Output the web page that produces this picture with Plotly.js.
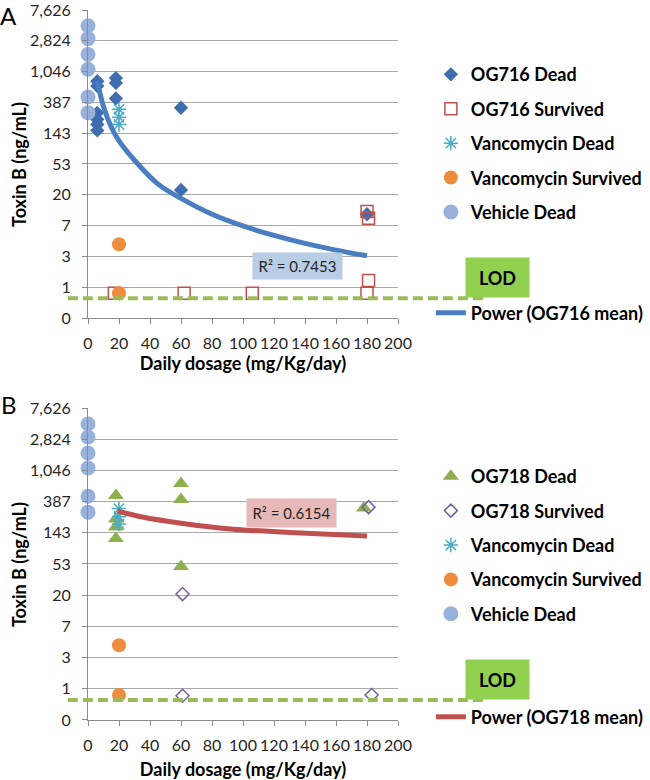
<!DOCTYPE html>
<html>
<head>
<meta charset="utf-8">
<script src="https://cdn.plot.ly/plotly-3.0.1.min.js"></script>
<style>
  html, body { margin: 0; padding: 0; background: #fff; }
  #chart { width: 650px; height: 780px; }
</style>
</head>
<body>
<div id="chart"></div>
<script>
// y axis: log scale, ticks step by x2.7 from 0.37 (shown as "0")
var yTickVals = [0.37, 1.0, 2.7, 7.29, 19.68, 53.14, 143.5, 387.4, 1046, 2824, 7626];
var yTickText = ['0', '1', '3', '7', '20', '53', '143', '387', '1,046', '2,824', '7,626'];
var lodValue = 0.7;

// shared groups
var vehicleDose = [0, 0, 0, 0, 0, 0];
var vehicleTox = [4590, 3030, 1820, 1130, 460, 277];
var vancoDeadDose = [20, 20, 20];
var vancoDeadTox = [310, 240, 190];
var vancoSurvDose = [20, 20];
var vancoSurvTox = [4.0, 0.82];

// panel A - OG716
var og716DeadDose = [6, 6, 6, 6, 6, 6, 18, 18, 18, 60, 60, 180];
var og716DeadTox = [768, 656, 277, 223, 190, 157, 849, 725, 440, 326, 23, 10.5];
var og716SurvDose = [17, 62, 106, 180, 181, 181, 180];
var og716SurvTox = [0.82, 0.82, 0.82, 11.5, 9.2, 1.24, 0.82];
var og716TrendDose = [6, 10, 15, 20, 30, 45, 60, 80, 100, 120, 140, 160, 180];
var og716TrendTox = [768, 340, 175, 112, 60, 28, 17.5, 10.5, 7.2, 5.3, 4.1, 3.3, 2.75];

// panel B - OG718
var og718DeadDose = [18, 18, 18, 18, 60, 60, 60, 178];
var og718DeadTox = [470, 222, 173, 120, 690, 415, 49, 316];
var og718SurvDose = [61, 61, 181, 183];
var og718SurvTox = [20.4, 0.80, 325, 0.82];
var og718TrendDose = [19, 35, 60, 94, 130, 180];
var og718TrendTox = [287, 237, 195, 161, 145, 130];

var fontFam = 'Lato, "Open Sans", sans-serif';
var yLo = Math.log10(yTickVals[0]);
var yHi = Math.log10(yTickVals[yTickVals.length - 1]);
var lodFrac = (Math.log10(lodValue) - yLo) / (yHi - yLo);

function markerTrace(name, x, y, marker, xa, ya, leg) {
    return {
        x: x, y: y, name: name, type: 'scatter', mode: 'markers',
        marker: marker, xaxis: xa, yaxis: ya, legend: leg,
        legendgroup: leg + name, cliponaxis: false, hoverinfo: 'x+y'
    };
}

function panelTraces(xa, ya, leg, deadName, deadX, deadY, deadMarker, survName, survX, survY, survMarker) {
    return [
        markerTrace(deadName, deadX, deadY, deadMarker, xa, ya, leg),
        markerTrace(survName, survX, survY, survMarker, xa, ya, leg),
        markerTrace('Vancomycin Dead', vancoDeadDose, vancoDeadTox,
            {symbol: 'asterisk-open', size: 12, color: '#4BACC6', line: {width: 1.5}}, xa, ya, leg),
        markerTrace('Vancomycin Survived', vancoSurvDose, vancoSurvTox,
            {symbol: 'circle', size: 14, color: '#EE8C3E'}, xa, ya, leg),
        markerTrace('Vehicle Dead', vehicleDose, vehicleTox,
            {symbol: 'circle', size: 15, color: '#98B1DA'}, xa, ya, leg)
    ];
}

var data = [].concat(
    panelTraces('x', 'y', 'legend', 'OG716 Dead', og716DeadDose, og716DeadTox,
        {symbol: 'diamond', size: 11, color: '#3E6DB0'},
        'OG716 Survived', og716SurvDose, og716SurvTox,
        {symbol: 'square-open', size: 12, color: '#C0504D', line: {width: 1.5}}),
    [{
        x: og716TrendDose, y: og716TrendTox, name: 'Power (OG716 mean)',
        type: 'scatter', mode: 'lines', xaxis: 'x', yaxis: 'y', legend: 'legend3',
        line: {color: '#4A7EC0', width: 5, shape: 'spline'}
    }],
    panelTraces('x2', 'y2', 'legend2', 'OG718 Dead', og718DeadDose, og718DeadTox,
        {symbol: 'triangle-up', size: 14, color: '#8FB04E'},
        'OG718 Survived', og718SurvDose, og718SurvTox,
        {symbol: 'diamond-open', size: 10, color: '#7460A0', line: {width: 1.5}}),
    [{
        x: og718TrendDose, y: og718TrendTox, name: 'Power (OG718 mean)',
        type: 'scatter', mode: 'lines', xaxis: 'x2', yaxis: 'y2', legend: 'legend4',
        line: {color: '#C0504D', width: 5, shape: 'spline'}
    }]
);

function xAxis(anchor, standoff) {
    return {
        anchor: anchor, domain: [0, 1], range: [0, 200], dtick: 20, tick0: 0,
        showgrid: false, zeroline: false, showline: true, linecolor: '#8C8C8C', linewidth: 1,
        ticks: 'outside', ticklen: 5, tickcolor: '#8C8C8C', ticklabelstandoff: 6,
        tickfont: {family: fontFam, size: 16, color: '#262626'},
        title: {text: 'Daily dosage (mg/Kg/day)', standoff: standoff,
            font: {family: fontFam, size: 18, color: '#000', weight: 'bold'}}
    };
}

function yAxis(anchor, domain) {
    return {
        anchor: anchor, domain: domain, type: 'log', range: [yLo, yHi],
        tickmode: 'array', tickvals: yTickVals, ticktext: yTickText,
        showgrid: true, gridcolor: '#A8A8A8', gridwidth: 1, zeroline: false,
        showline: true, linecolor: '#8C8C8C', linewidth: 1,
        ticks: 'outside', ticklen: 5, tickcolor: '#8C8C8C', ticklabelstandoff: 8,
        ticklabeloverflow: 'allow',
        tickfont: {family: fontFam, size: 16, color: '#262626'}
    };
}

// y titles as annotations so they sit where the original has them
function yTitle(yref) {
    return {
        xref: 'paper', yref: yref, x: -0.2226, y: 0.5, xanchor: 'center', yanchor: 'middle',
        textangle: -90, showarrow: false, text: '<b>Toxin B (ng/mL)</b>',
        font: {family: fontFam, size: 18, color: '#000'}
    };
}

function legendBox(y, yanchor) {
    return {
        x: 1.106, xanchor: 'left', y: y, yanchor: yanchor,
        bgcolor: 'rgba(0,0,0,0)', traceorder: 'grouped', tracegroupgap: 8,
        font: {family: fontFam, size: 18, color: '#000', weight: 'bold'}
    };
}

function lodShape(xref, yref) {
    return {
        type: 'line', xref: xref, yref: yref, x0: -0.065, x1: 1.29, y0: lodFrac, y1: lodFrac,
        line: {color: '#9BBB59', width: 4, dash: '10px,5px'}
    };
}

function lodLabel(xref, yref) {
    return {
        xref: xref, yref: yref, x: 1.321, y: 0.13, xanchor: 'center', yanchor: 'middle',
        showarrow: false, text: '<b>LOD</b>', width: 61, height: 37, bgcolor: '#92D050',
        font: {family: fontFam, size: 18, color: '#000'}
    };
}

var layout = {
    width: 650, height: 780,
    margin: {l: 88, r: 252, t: 10, b: 60, autoexpand: false},
    paper_bgcolor: '#fff', plot_bgcolor: '#fff',
    showlegend: true,
    xaxis: xAxis('y', 2),
    yaxis: yAxis('x', [0.5662, 1]),
    xaxis2: xAxis('y2', 10),
    yaxis2: yAxis('x2', [0, 0.4394]),
    legend: legendBox(0.935, 'top'),
    legend2: legendBox(0.369, 'top'),
    legend3: legendBox(0.5732, 'middle'),
    legend4: legendBox(0.0042, 'middle'),
    shapes: [lodShape('x domain', 'y domain'), lodShape('x2 domain', 'y2 domain')],
    annotations: [
        {xref: 'paper', yref: 'paper', x: -0.255, y: 0.992, xanchor: 'center', yanchor: 'middle',
            text: 'A', showarrow: false, font: {family: fontFam, size: 24, color: '#000'}},
        {xref: 'paper', yref: 'paper', x: -0.255, y: 0.444, xanchor: 'center', yanchor: 'middle',
            text: 'B', showarrow: false, font: {family: fontFam, size: 24, color: '#000'}},
        yTitle('y domain'),
        yTitle('y2 domain'),
        {xref: 'x', yref: 'y domain', x: 135, y: 0.17, xanchor: 'center', yanchor: 'middle',
            text: 'R² = 0.7453', showarrow: false, width: 87, height: 24, bgcolor: '#B9CDE5',
            font: {family: fontFam, size: 15, color: '#262626'}},
        {xref: 'x2', yref: 'y2 domain', x: 131, y: 0.663, xanchor: 'center', yanchor: 'middle',
            text: 'R² = 0.6154', showarrow: false, width: 87, height: 26, bgcolor: '#E6B9B8',
            font: {family: fontFam, size: 15, color: '#262626'}},
        lodLabel('x domain', 'y domain'),
        lodLabel('x2 domain', 'y2 domain')
    ]
};

Plotly.newPlot('chart', data, layout, {displayModeBar: false, staticPlot: true});
</script>
</body>
</html>
